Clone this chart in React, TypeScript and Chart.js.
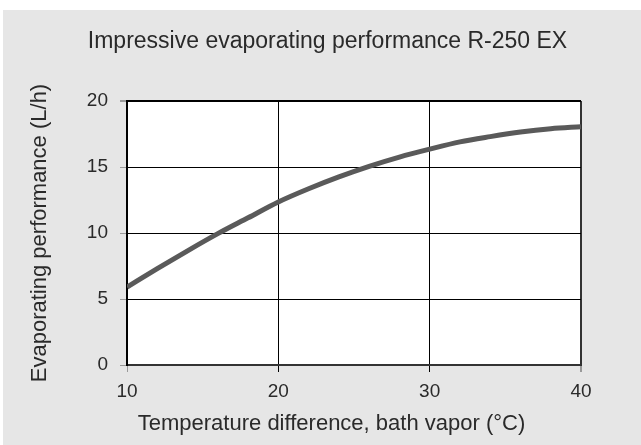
import React, { useEffect, useRef } from "react";
import { Chart, registerables } from "chart.js";

Chart.register(...registerables);

const xValues = [10, 12, 14, 16, 18, 20, 22, 24, 26, 28, 30, 32, 34, 36, 38, 40];
const yValues = [5.9, 7.3, 8.65, 9.95, 11.15, 12.35, 13.35, 14.25, 15.05, 15.75, 16.35, 16.9, 17.3, 17.65, 17.9, 18.05];
const chartTitle = "Impressive evaporating performance R-250 EX";
const xTitle = "Temperature difference, bath vapor (°C)";
const yTitle = "Evaporating performance (L/h)";

const FONT = "'Liberation Sans', Arial, sans-serif";
const TEXT = "#2a2a2a";

const bgPlugin = {
  id: "bgPlugin",
  beforeDraw(chart: any) {
    const { ctx, chartArea } = chart;
    ctx.save();
    ctx.fillStyle = "#e6e6e6";
    ctx.fillRect(3, 10, chart.width - 3, chart.height - 10);
    ctx.fillStyle = "#ffffff";
    ctx.fillRect(chartArea.left, chartArea.top, chartArea.right - chartArea.left, chartArea.bottom - chartArea.top);
    ctx.restore();
  },
  afterDraw(chart: any) {
    const { ctx } = chart;
    ctx.save();
    ctx.fillStyle = TEXT;
    ctx.textAlign = "center";
    ctx.textBaseline = "alphabetic";
    ctx.font = `23px ${FONT}`;
    ctx.fillText(chartTitle, 327.5, 48);
    ctx.font = `22px ${FONT}`;
    ctx.fillText(xTitle, 331.5, 430);
    ctx.restore();
  },
};

export default function App() {
  const ref = useRef<HTMLCanvasElement | null>(null);
  useEffect(() => {
    if (!ref.current) return;
    const chart = new Chart(ref.current, {
      type: "line",
      data: {
        datasets: [
          {
            data: xValues.map((x, i) => ({ x, y: yValues[i] })),
            borderColor: "#5a5a5a",
            borderWidth: 5,
            pointRadius: 0,
            cubicInterpolationMode: "monotone",
            fill: false,
          },
        ],
      },
      options: {
        animation: false,
        responsive: false,
        layout: { padding: { top: 101, left: 3, right: 60, bottom: 0 } },
        plugins: {
          legend: { display: false },
          tooltip: { enabled: false },
          title: { display: false },
        },
        scales: {
          x: {
            type: "linear",
            min: 10,
            max: 40,
            afterFit: (s: any) => {
              s.height = 80;
            },
            ticks: {
              stepSize: 10,
              color: TEXT,
              font: { family: FONT, size: 19 },
              padding: 8,
              maxRotation: 0,
            },
            grid: {
              color: (c: any) => (c.tick && c.tick.value === 40 ? "#333" : "#000"),
              lineWidth: (c: any) => (c.tick && c.tick.value === 40 ? 2 : 1),
              tickLength: 7,
              tickColor: (c: any) => (c.tick && (c.tick.value === 10 || c.tick.value === 40) ? "#999" : "#000"),
            },
            border: { display: true, color: "#333", width: 2 },
            title: { display: false },
          },
          y: {
            min: 0,
            max: 20,
            afterFit: (s: any) => {
              s.width = 124;
            },
            ticks: {
              stepSize: 5,
              color: TEXT,
              font: { family: FONT, size: 19 },
              padding: 12,
            },
            grid: {
              color: "#000",
              lineWidth: (c: any) => (c.tick && c.tick.value === 20 ? 2 : 1),
              tickLength: 7,
              tickColor: "#999",
            },
            border: { display: true, color: "#000", width: 2 },
            title: {
              display: true,
              text: yTitle,
              color: TEXT,
              font: { family: FONT, size: 22 },
              padding: { top: 24, bottom: 0 },
            },
          },
        },
      },
      plugins: [bgPlugin],
    } as any);
    return () => chart.destroy();
  }, []);
  return (
    <div style={{ position: "fixed", left: 0, top: 0, width: 641, height: 445 }}>
      <canvas ref={ref} width={641} height={445} style={{ display: "block" }} />
    </div>
  );
}
